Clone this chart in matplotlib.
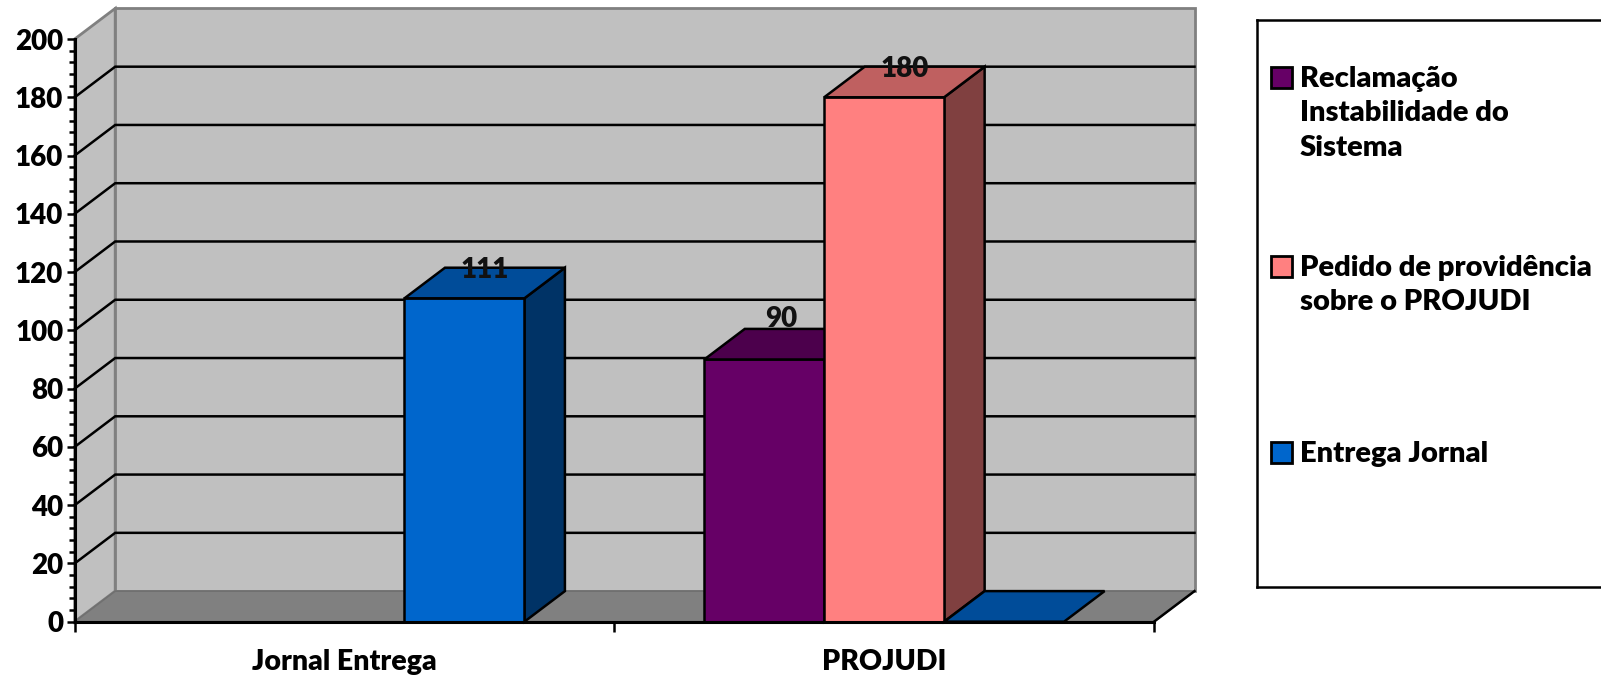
import numpy as np
import matplotlib
matplotlib.use('Agg')
import matplotlib.pyplot as plt
from matplotlib.patches import Polygon, Rectangle
from matplotlib.ticker import MultipleLocator

categorias = ['Jornal Entrega', 'PROJUDI']
series = ['Reclamação\nInstabilidade do\nSistema',
          'Pedido de providência\nsobre o PROJUDI',
          'Entrega Jornal']
reclamacao = [np.nan, 90]
pedido = [np.nan, 180]
entrega = [111, 0]
valores = [reclamacao, pedido, entrega]

# frente, topo, lado
cores = [('#660066', '#4C004C', '#330033'),
         ('#FF8080', '#BF6060', '#804040'),
         ('#0066CC', '#004C99', '#003366')]

W, H = 1601, 681
EIXO_X0, EIXO_X1 = 74.7, 1154.0
EIXO_Y0, EIXO_Y1 = 621.7, 39.0
LARGURA = 2 / 9            # gap de 150%
PROF_X = 40.5 / 539.65     # profundidade em unidades de categoria
PROF_Y = 10.5              # profundidade em unidades de valor
LW = 1.8

plt.rcParams['font.family'] = ['Lato', 'DejaVu Sans']
plt.rcParams['font.weight'] = 'heavy'

fig = plt.figure(figsize=(W / 100, H / 100), dpi=100)
ax = fig.add_axes([EIXO_X0 / W, 1 - EIXO_Y0 / H,
                   (EIXO_X1 - EIXO_X0) / W, (EIXO_Y0 - EIXO_Y1) / H])
ax.set_xlim(0, 2)
ax.set_ylim(0, 200)
ax.patch.set_visible(False)


def poligono(pontos, face, borda, lw=LW, z=1):
    ax.add_patch(Polygon(pontos, closed=True, facecolor=face, edgecolor=borda,
                         linewidth=lw, clip_on=False, zorder=z,
                         joinstyle='miter'))


# paredes e piso
poligono([(0, 0), (PROF_X, PROF_Y), (PROF_X, 200 + PROF_Y), (0, 200)],
         '#C0C0C0', '#808080', 2)
poligono([(PROF_X, PROF_Y), (2 + PROF_X, PROF_Y), (2 + PROF_X, 200 + PROF_Y),
          (PROF_X, 200 + PROF_Y)], '#C0C0C0', '#808080', 2)
poligono([(0, 0), (PROF_X, PROF_Y), (2 + PROF_X, PROF_Y), (2, 0)],
         '#808080', '#707070', 1.2, z=1.5)
ax.plot([2, 2 + PROF_X], [0, PROF_Y], color='black', lw=LW, clip_on=False,
        zorder=1.6)

# linhas de grade
for v in range(20, 200, 20):
    ax.plot([0, PROF_X, 2 + PROF_X], [v, v + PROF_Y, v + PROF_Y], color='black',
            lw=LW, clip_on=False, zorder=1.6, solid_joinstyle='miter')

# barras
for i, (vals, (frente, topo, lado)) in enumerate(zip(valores, cores)):
    for c, v in enumerate(vals):
        if np.isnan(v):
            continue
        x0 = c + (0.5 - 1.5 * LARGURA) + i * LARGURA
        x1 = x0 + LARGURA
        z = 2 + i * 0.1
        if v > 0:
            poligono([(x1, 0), (x1 + PROF_X, PROF_Y), (x1 + PROF_X, v + PROF_Y),
                      (x1, v)], lado, 'black', z=z)
            ax.bar(x0, v, LARGURA, align='edge', color=frente,
                   edgecolor='black', linewidth=LW, clip_on=False, zorder=z)
        poligono([(x0, v), (x0 + PROF_X, v + PROF_Y), (x1 + PROF_X, v + PROF_Y),
                  (x1, v)], topo, 'black', z=z)

# rotulos de dados (serie, categoria, ajuste x, ajuste y)
rotulos = [(2, 0, 0, -0.7), (0, 1, -0.006, 3.3), (1, 1, 0, -0.7)]
for i, c, extra_x, extra_y in rotulos:
    v = valores[i][c]
    x = c + 0.5 + (i - 1) * LARGURA + PROF_X / 2 + extra_x
    ax.text(x, v + PROF_Y + extra_y, str(v), ha='center', va='center',
            fontsize=20, color='#111111', clip_on=False, zorder=5)

# eixos
for lado_eixo in ['top', 'right']:
    ax.spines[lado_eixo].set_visible(False)
for lado_eixo in ['left', 'bottom']:
    ax.spines[lado_eixo].set_linewidth(2.2)
    ax.spines[lado_eixo].set_zorder(4)
ax.yaxis.set_major_locator(MultipleLocator(20))
ax.yaxis.set_minor_locator(MultipleLocator(4))
ax.tick_params(axis='y', which='major', length=5.8, width=LW, pad=2.5,
               labelsize=20)
ax.tick_params(axis='y', which='minor', length=4, width=LW)
ax.set_xticks([0, 1, 2])
ax.set_xticks([0.5, 1.5], minor=True)
ax.set_xticklabels([])
ax.set_xticklabels(categorias, minor=True, fontsize=20.5)
ax.tick_params(axis='x', which='major', length=7, width=LW)
ax.tick_params(axis='x', which='minor', length=0, pad=19.5)

# legenda
leg = fig.add_axes([1256.7 / W, 1 - 587 / H, (W - 1256.7) / W, (587 - 20) / H])
leg.set_xlim(1256.7, W)
leg.set_ylim(587, 20)
leg.set_xticks([])
leg.set_yticks([])
leg.spines['right'].set_visible(False)
for lado_eixo in ['left', 'top', 'bottom']:
    leg.spines[lado_eixo].set_linewidth(1.8)

pos_legenda = [77, 266, 452]
for nome, (frente, _, _), y in zip(series, cores, pos_legenda):
    leg.add_patch(Rectangle((1271, y - 10.5), 20.5, 21, facecolor=frente,
                            edgecolor='black', linewidth=2))
    leg.text(1300, y - 11, nome, ha='left', va='top', fontsize=21,
             linespacing=1.4)

fig.savefig('out.png', dpi=100)
